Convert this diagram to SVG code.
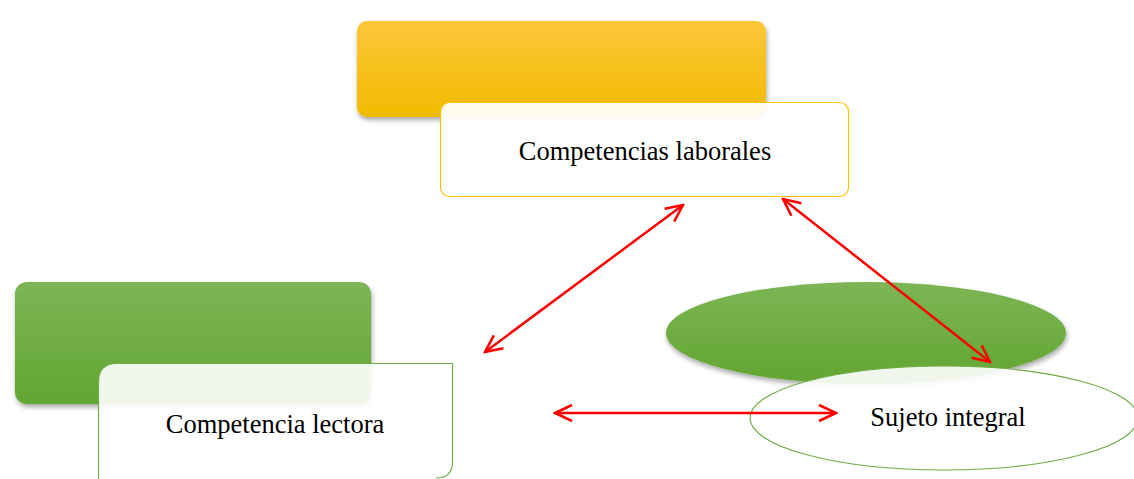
<svg xmlns="http://www.w3.org/2000/svg" width="1134" height="479" viewBox="0 0 1134 479">
<style>
.lbl{font-family:"Liberation Serif","Times New Roman",serif;font-size:26.5px;fill:#000;text-anchor:middle}
.con{stroke:#ff0000;stroke-width:2.5;fill:none;marker-start:url(#ah);marker-end:url(#ah)}
</style>
<defs>
<linearGradient id="gy" x1="0" y1="0" x2="0" y2="1">
<stop offset="0" stop-color="#fcc63a"/><stop offset="1" stop-color="#f2bb00"/>
</linearGradient>
<linearGradient id="gg" x1="0" y1="0" x2="0" y2="1">
<stop offset="0" stop-color="#7db555"/><stop offset="1" stop-color="#62a532"/>
</linearGradient>
<filter id="sh" x="-10%" y="-20%" width="120%" height="150%">
<feDropShadow dx="1" dy="3" stdDeviation="2.5" flood-color="#000" flood-opacity="0.35"/>
</filter>
<marker id="ah" viewBox="0 0 24 24" refX="22" refY="12" markerWidth="24" markerHeight="24" markerUnits="userSpaceOnUse" orient="auto-start-reverse">
<path d="M5,4 L22,12 L5,20" fill="none" stroke="#ff0000" stroke-width="2.5"/>
</marker>
</defs>
<rect width="1134" height="479" fill="#fff"/>
<g id="n-laborales-bg"><rect x="357" y="21" width="409" height="96" rx="10" fill="url(#gy)" filter="url(#sh)"/></g>
<g id="n-lectora-bg"><rect x="15" y="282" width="356" height="122" rx="12" fill="url(#gg)" filter="url(#sh)"/></g>
<g id="n-sujeto-bg"><ellipse cx="866" cy="333" rx="200" ry="51" fill="url(#gg)" filter="url(#sh)"/></g>
<g id="n-laborales">
<rect x="440.5" y="102.5" width="408" height="94" rx="9" fill="#fff" fill-opacity="0.93" stroke="#ffc000" stroke-width="1.2"/>
<text class="lbl" x="645" y="160">Competencias laborales</text>
</g>
<g id="n-lectora">
<path d="M98.5,490 L98.5,382 Q98.5,363.5 117,363.5 L452.5,363.5 L452.5,462 Q452.5,478 436,478" fill="#fff" fill-opacity="0.9" stroke="#70ad47" stroke-width="1.2"/>
<text class="lbl" x="275" y="433">Competencia lectora</text>
</g>
<g id="n-sujeto">
<ellipse cx="944" cy="418" rx="194" ry="52" fill="#fff" fill-opacity="0.9" stroke="#70ad47" stroke-width="1.2"/>
<text class="lbl" x="948" y="426">Sujeto integral</text>
</g>
<g id="connectors">
<line class="con" x1="485" y1="352" x2="683" y2="205"/>
<line class="con" x1="783" y1="199" x2="990" y2="362"/>
<line class="con" x1="555" y1="413" x2="836" y2="413"/>
</g>
</svg>
